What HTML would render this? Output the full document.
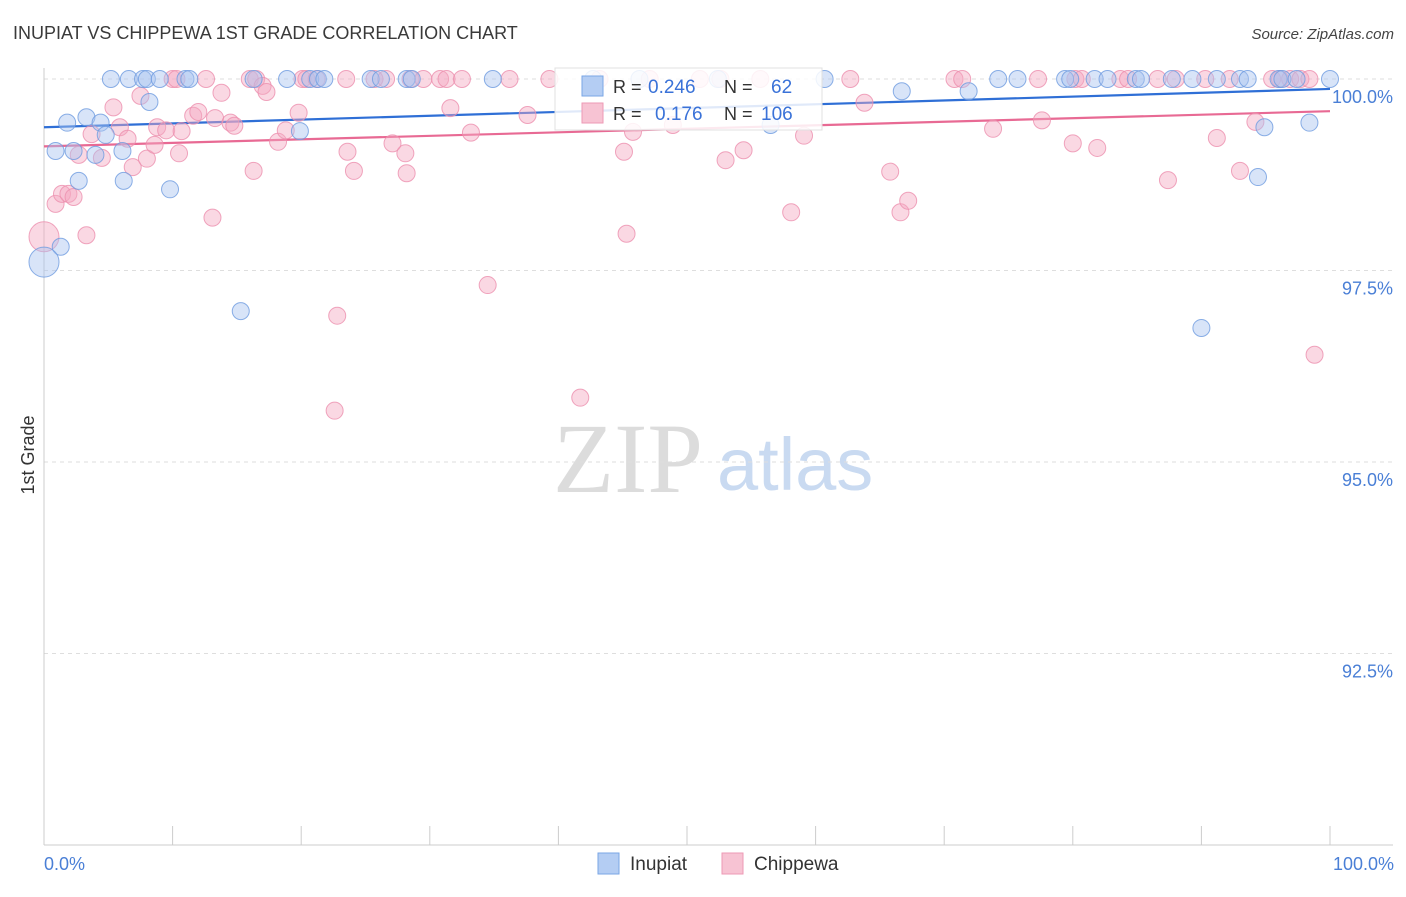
<!DOCTYPE html>
<html><head><meta charset="utf-8"><style>
body{margin:0;background:#fff;font-family:"Liberation Sans",sans-serif;}
svg text{font-family:"Liberation Sans",sans-serif;}
</style></head><body>
<svg id="chart" width="1406" height="892" viewBox="0 0 1406 892" xmlns="http://www.w3.org/2000/svg">
<text x="13" y="39" font-size="18" fill="#3a3a3a">INUPIAT VS CHIPPEWA 1ST GRADE CORRELATION CHART</text>
<text x="1394" y="39" font-size="15" fill="#444" text-anchor="end" font-style="italic">Source: ZipAtlas.com</text>
<g>
<text x="553" y="492" font-size="100" fill="#dcdcdc" style="font-family:'Liberation Serif',serif">ZIP</text>
<text x="717" y="490" font-size="74" fill="#c9daf1">atlas</text>
</g>
<g id="grid"></g>
<g id="axes"></g>
<g id="lines"></g>
<g id="points"></g>
<text transform="translate(34,455) rotate(-90)" font-size="18" fill="#333" text-anchor="middle">1st Grade</text>
<text x="44" y="870" font-size="18" fill="#4a7fd6">0.0%</text>
<text x="1394" y="870" font-size="18" fill="#4a7fd6" text-anchor="end">100.0%</text>
<g>
<rect x="555" y="68" width="267" height="62" fill="#fff" fill-opacity="0.85" stroke="#e0e0e0"/>
<rect x="582" y="76" width="21" height="20" fill="#b4cdf3" stroke="#7aa6e6"/>
<text x="613" y="93" font-size="18" fill="#333">R = </text><text x="648" y="93" font-size="19" fill="#3a72d8">0.246</text>
<text x="724" y="93" font-size="18" fill="#333">N = </text><text x="771" y="93" font-size="19" fill="#3a72d8">62</text>
<rect x="582" y="103" width="21" height="20" fill="#f7c3d3" stroke="#ee9ab5"/>
<text x="613" y="120" font-size="18" fill="#333">R = </text><text x="655" y="120" font-size="19" fill="#3a72d8">0.176</text>
<text x="724" y="120" font-size="18" fill="#333">N = </text><text x="761" y="120" font-size="19" fill="#3a72d8">106</text>
</g>
<g>
<rect x="598" y="853" width="21" height="21" fill="#b4cdf3" stroke="#7aa6e6"/>
<text x="630" y="870" font-size="19" fill="#333">Inupiat</text>
<rect x="722" y="853" width="21" height="21" fill="#f7c3d3" stroke="#ee9ab5"/>
<text x="754" y="870" font-size="19" fill="#333">Chippewa</text>
</g>
</svg>
<script>
const yTicks=[100,97.5,95,92.5];
const yTickLabels=["100.0%","97.5%","95.0%","92.5%"];
const xTicks=[0,10,20,30,40,50,60,70,80,90,100];
const blueX=[5.2,6.6,7.7,8.0,9.0,11.0,11.3,16.3,18.9,20.7,21.3,21.8,25.4,26.2,28.2,28.6,34.9,42.7,46.3,52.4,60.7,74.2,75.7,79.4,79.8,81.7,82.7,84.9,85.3,87.7,89.3,91.2,93.0,93.6,96.0,96.3,97.4,100,
1.8,3.3,4.4,4.8,0.9,2.3,4.0,6.1,8.2,2.7,6.2,9.8,1.3,0,15.3,19.9,66.7,71.9,56.5,94.9,98.4,94.4,90.0];
const blueY=[100,100,100,100,100,100,100,100,100,100,100,100,100,100,100,100,100,100,100,100,100,100,100,100,100,100,100,100,100,100,100,100,100,100,100,100,100,100,
99.43,99.50,99.43,99.27,99.06,99.06,99.01,99.06,99.70,98.67,98.67,98.56,97.81,97.61,96.97,99.32,99.84,99.84,99.40,99.37,99.43,98.72,96.75];
const pinkX=[10.0,10.3,12.6,16.0,16.5,20.1,20.4,21.2,23.5,25.7,26.6,28.5,29.5,30.8,31.3,32.5,36.2,39.3,43.2,47.1,51.0,52.6,55.7,62.7,70.8,71.4,77.3,80.2,80.7,83.7,84.3,86.6,88.0,90.3,92.2,95.5,96.1,96.9,97.7,98.4,
0,0.9,1.4,1.9,2.3,3.3,2.7,3.7,4.5,5.4,5.9,6.5,6.9,7.5,8.0,8.6,8.8,9.5,10.5,10.7,11.6,12.0,13.1,13.3,13.8,14.5,14.8,16.3,17.0,17.3,18.2,18.8,19.8,22.6,22.8,23.6,24.1,27.1,28.1,28.2,31.6,33.2,34.5,37.6,41.7,45.1,45.3,45.8,48.9,53.0,54.4,58.1,59.1,63.8,65.8,66.6,67.2,73.8,77.6,80.0,81.9,87.4,91.2,93.0,94.2,98.8];
const pinkY=[100,100,100,100,100,100,100,100,100,100,100,100,100,100,100,100,100,100,100,100,100,100,100,100,100,100,100,100,100,100,100,100,100,100,100,100,100,100,100,100,
97.94,98.37,98.50,98.50,98.46,97.96,99.01,99.28,98.97,99.63,99.37,99.22,98.85,99.78,98.96,99.14,99.37,99.33,99.03,99.32,99.52,99.57,98.19,99.49,99.82,99.43,99.39,98.80,99.91,99.83,99.18,99.33,99.56,95.67,96.91,99.05,98.80,99.16,99.03,98.77,99.62,99.30,97.31,99.53,95.84,99.05,97.98,99.31,99.40,98.94,99.07,98.26,99.26,99.69,98.79,98.26,98.41,99.35,99.46,99.16,99.10,98.68,99.23,98.80,99.44,96.40];
const blueTrend=[99.37,99.87];
const pinkTrend=[99.12,99.58];
const NS="http://www.w3.org/2000/svg";
const xs=v=>44+v*12.86;
const ys=v=>79+(100-v)*76.6;
function mk(tag,attrs,parent){const e=document.createElementNS(NS,tag);for(const k in attrs)e.setAttribute(k,attrs[k]);document.getElementById(parent).appendChild(e);return e;}
yTicks.forEach((t,i)=>{
 const l=mk('line',{x1:44,x2:1393,y1:ys(t),y2:ys(t),stroke:'#dedede','stroke-dasharray':'4,4'},'grid');
 
 
 const tx=mk('text',{x:1393,y:ys(t)+24,'font-size':18,fill:'#4a7fd6','text-anchor':'end'},'grid');
 tx.textContent=yTickLabels[i];
 
 
});
const ax=mk('line',{x1:44,x2:1393,y1:845,y2:845,stroke:'#ccc'},'axes');


const ay=mk('line',{x1:44,x2:44,y1:68,y2:845,stroke:'#ccc'},'axes');


xTicks.forEach(t=>{
 const l=mk('line',{x1:xs(t),x2:xs(t),y1:826,y2:845,stroke:'#ccc'},'axes');
 
 
});
function pts(X,Y,fill,stroke,name){
 X.forEach((x,i)=>{
  const big=(x===0);
  const c=mk('circle',{cx:xs(x),cy:ys(Y[i]),r:big?15:8.5,fill:fill,'fill-opacity':0.45,stroke:stroke,'stroke-opacity':0.8,'stroke-width':1},'points');
  
  
 });
}
pts(pinkX,pinkY,'#f5a9c0','#ec8fae','chippewa-point');
pts(blueX,blueY,'#a8c4f0','#6e9be0','inupiat-point');
const bl=mk('line',{x1:xs(0),x2:xs(100),y1:ys(blueTrend[0]),y2:ys(blueTrend[1]),stroke:'#2f6fd6','stroke-width':2.2},'lines');


const pl=mk('line',{x1:xs(0),x2:xs(100),y1:ys(pinkTrend[0]),y2:ys(pinkTrend[1]),stroke:'#e86a94','stroke-width':2.2},'lines');


</script>
</body></html>
